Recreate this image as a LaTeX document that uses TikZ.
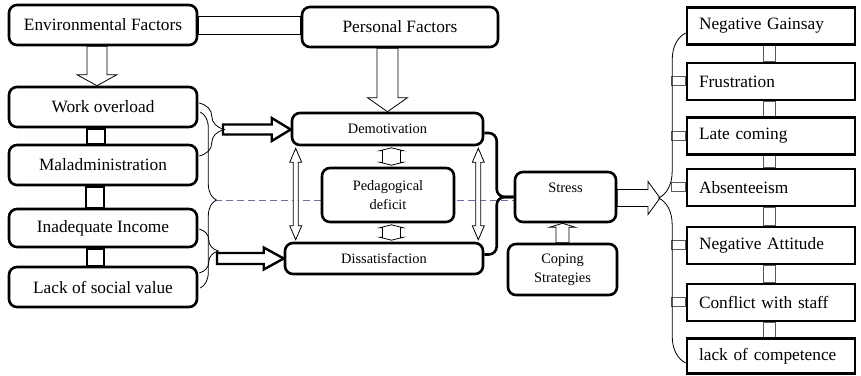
\documentclass[tikz,border=0pt]{standalone}
\usepackage{fontspec}
\setmainfont{Liberation Serif}
\usetikzlibrary{calc,backgrounds,decorations.pathreplacing}
\definecolor{dv}{HTML}{8064A2}
\definecolor{lk}{HTML}{5A5A5A}

% hollow block arrow: [style]{from}{to}{half shaft}{half head}{head length}
\newcommand{\blockarrow}[6][]{%
	\coordinate (ba-h) at ($(#3)!#6!(#2)$);
	\draw[#1] ($(#2)!#4!90:(#3)$) -- ($(ba-h)!#4!90:(#3)$) -- ($(ba-h)!#5!90:(#3)$) -- (#3)
		-- ($(ba-h)!#5!-90:(#3)$) -- ($(ba-h)!#4!-90:(#3)$) -- ($(#2)!#4!-90:(#3)$) -- cycle;}
% same, with a head at both ends
\newcommand{\twinarrow}[6][]{%
	\coordinate (ta-a) at ($(#2)!#6!(#3)$);
	\coordinate (ta-b) at ($(#3)!#6!(#2)$);
	\draw[#1] (#2) -- ($(ta-a)!#5!90:(#3)$) -- ($(ta-a)!#4!90:(#3)$) -- ($(ta-b)!#4!90:(#3)$)
		-- ($(ta-b)!#5!90:(#3)$) -- (#3) -- ($(ta-b)!#5!-90:(#3)$) -- ($(ta-b)!#4!-90:(#3)$)
		-- ($(ta-a)!#4!-90:(#3)$) -- ($(ta-a)!#5!-90:(#3)$) -- cycle;}

\begin{document}
\begin{tikzpicture}[x=1pt,y=-1pt,
	rbox/.style={draw, line width=2.6pt, rounded corners=8pt, fill=white, inner sep=0pt, align=center,
		minimum height=40pt, font=\fontsize{17.3}{20}\selectfont},
	sbox/.style={rbox, font=\fontsize{14.4}{19}\selectfont},
	qbox/.style={draw, line width=2.6pt, fill=white, minimum width=168pt, minimum height=37pt,
		text width=144pt, inner xsep=12pt, inner ysep=0pt, align=left, font=\fontsize{17.3}{20}\selectfont},
	hollow/.style={draw, line width=0.8pt, fill=white},
	fat/.style={draw, line width=2.4pt, fill=white},
	link/.style={draw=lk, line width=0.8pt, fill=white},
	bracel/.style={decorate, decoration={brace, amplitude=#1}, line width=0.8pt}]

		\useasboundingbox (0,0) rectangle (861,375);

		% Factors
		\node[rbox, minimum width=188pt] (env) at (103,25) {Environmental Factors};
		\node[rbox, minimum width=196pt] (pers) at (400,27) {Personal Factors};

		% Causes
		\node[rbox, minimum width=188pt] (work) at (103,107) {Work overload};
		\node[rbox, minimum width=188pt] (mal) at (103,165) {Maladministration};
		\node[rbox, minimum width=188pt, minimum height=38pt] (inc) at (103,228) {Inadequate Income};
		\node[rbox, minimum width=188pt] (lack) at (103,287) {Lack of social value};

		% Middle
		\node[sbox, minimum width=191pt, minimum height=32pt] (demo) at (387.5,129) {Demotivation};
		\node[sbox, minimum width=198pt, minimum height=31pt] (diss) at (384,258.5) {Dissatisfaction};
		\node[sbox, minimum width=132pt, minimum height=54pt] (ped) at (388,195) {Pedagogical\\deficit};
		\node[sbox, minimum width=101pt, minimum height=50pt] (stress) at (565.5,197) {Stress\\\mbox{}};
		\node[sbox, minimum width=109pt, minimum height=51pt] (cope) at (562.5,269.5) {Coping\\Strategies};

		% Effects
		\node[qbox] (ng) at (771,26) {Negative Gainsay};
		\node[qbox] (fr) at (771,81.5) {Frustration};
		\node[qbox] (lc) at (771,136) {Late coming};
		\node[qbox] (ab) at (771,187.5) {Absenteeism};
		\node[qbox] (na) at (771,245.5) {Negative Attitude};
		\node[qbox] (cs) at (771,302.5) {Conflict with staff};
		\node[qbox, minimum height=35pt] (loc) at (771,356) {lack of competence};

		\coordinate (bbt) at (215,200);
		\coordinate (ubt) at (223,129.5);
		\coordinate (lbt) at (217,251);
		\coordinate (rtip) at (660,198);
		\coordinate (sj) at ($(stress.west)+(-17,0)$);

		\begin{scope}[on background layer]
		% Divider
		\draw[dv, line width=1pt, dash pattern=on 7pt off 4pt] (bbt) -- (bbt -| stress.west);

		% Links between boxes
		\draw[line width=2.4pt] ($(work.south)+(-16,0)$) rectangle ($(mal.north)+(2,0)$);
		\draw[line width=2.4pt] ($(mal.south)+(-17,0)$) rectangle ($(inc.north)+(1,0)$);
		\draw[line width=2.4pt] ($(inc.south)+(-16,0)$) rectangle ($(lack.north)+(1,0)$);
		\draw[hollow] ($(env.east)+(0,-9)$) rectangle ($(pers.west |- env.east)+(0,9)$);
		\foreach \a/\b in {ng/fr,fr/lc,lc/ab,ab/na,na/cs,cs/loc}
			\draw[link] ($(\a.south)+(-8,0)$) rectangle ($(\b.north)+(4,0)$);
		\foreach \b in {fr,lc,ab,na,cs}
			\draw[link] ($(\b.west)+(-14,-5)$) rectangle ($(\b.west)+(0,4)$);

		% Block arrows
		\coordinate (a1) at ($(env.south)+(-6,0)$);
		\coordinate (a2) at (a1 |- work.north);
		\blockarrow[hollow]{a1}{a2}{10pt}{20pt}{11pt}
		\coordinate (p1) at (demo.north |- pers.south);
		\blockarrow[hollow]{p1}{demo.north}{10.5pt}{20pt}{14pt}
		\coordinate (c2) at (cope.north |- stress.south);
		\blockarrow[hollow]{cope.north}{c2}{6.5pt}{13pt}{4pt}
		\coordinate (s1) at (stress.east |- rtip);
		\blockarrow[hollow]{s1}{rtip}{8.5pt}{16.5pt}{12pt}
		\coordinate (u2) at (ubt -| demo.west);
		\blockarrow[fat]{ubt}{u2}{5pt}{11.5pt}{19pt}
		\coordinate (l1) at (lbt |- diss.west);
		\blockarrow[fat]{l1}{diss.west}{5.5pt}{11pt}{20pt}

		% Double arrows
		\coordinate (v1) at ($(demo.south west)+(5,2)$);
		\coordinate (v2) at ($(v1 |- diss.north)+(0,-2)$);
		\twinarrow[hollow]{v1}{v2}{2.5pt}{6pt}{14pt}
		\coordinate (v3) at ($(demo.south east)+(-6,2)$);
		\coordinate (v4) at ($(v3 |- diss.north)+(0,-2)$);
		\twinarrow[hollow]{v3}{v4}{2.5pt}{6pt}{14pt}
		\coordinate (k1) at ($(demo.south)+(4,1.5)$);
		\coordinate (k2) at ($(k1 |- ped.north)+(0,-1.5)$);
		\twinarrow[hollow]{k1}{k2}{9pt}{12pt}{3pt}
		\coordinate (k3) at ($(k1 |- ped.south)+(0,1.5)$);
		\coordinate (k4) at ($(k1 |- diss.north)+(0,-1.5)$);
		\twinarrow[hollow]{k3}{k4}{9pt}{12pt}{3pt}
		\end{scope}

		% Braces
		\draw[bracel=16pt] ($(work.east)+(2,5)$) -- ($(lack.east)+(2,1)$);
		\draw[bracel=25pt] ($(work.east)+(1,-4)$) -- ($(mal.east)+(1,-9)$);
		\draw[bracel=19pt] ($(inc.east)+(1,1)$) -- ($(lack.east)+(1,-14)$);
		\draw[bracel=27pt] ($(loc.west)+(0,7)$) -- ($(ng.west)+(0,7)$);
		\draw[line width=2.6pt, rounded corners=8pt] ($(demo.east)+(0,4)$) -| (sj) -- (stress.west);
		\draw[line width=2.6pt, rounded corners=8pt] ($(diss.east)+(0,-4)$) -| (sj) -- (stress.west);

	\end{tikzpicture}
\end{document}
